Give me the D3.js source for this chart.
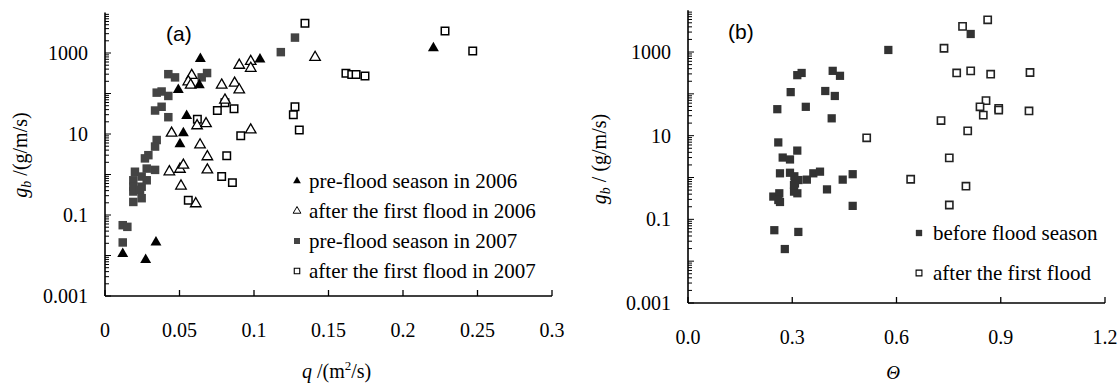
<!DOCTYPE html>
<html>
<head>
<meta charset="utf-8">
<script src="https://cdn.jsdelivr.net/npm/d3@7"></script>
<style>
  body { margin: 0; background: #fff; }
  svg { display: block; }
  text { font-family: "Liberation Serif", "Times New Roman", serif; fill: #000; }
</style>
</head>
<body>
<svg id="chart" width="1118" height="385"></svg>
<script>
// panel (a): [q (m2/s), gb (g/m/s)]
const pre2006 = [[0.064, 720], [0.104, 700], [0.2204, 1320], [0.0492, 123], [0.0633, 162],
  [0.0548, 28], [0.0526, 10.5], [0.0503, 5.6], [0.0119, 0.011], [0.0273, 0.0078], [0.0342, 0.021]];
const after2006 = [[0.0901, 500], [0.0978, 620], [0.0978, 420], [0.141, 780], [0.0582, 280],
  [0.0559, 195], [0.0575, 162], [0.0783, 162], [0.087, 180], [0.0901, 123], [0.0805, 69],
  [0.0618, 16], [0.0678, 18], [0.0447, 10.5], [0.0978, 12.6], [0.0638, 5.4], [0.0687, 2.75],
  [0.0687, 1.3], [0.0432, 1.17], [0.0503, 1.35], [0.0526, 1.7], [0.051, 0.52], [0.0609, 0.19]];
const pre2007 = [[0.118, 1050], [0.1275, 2400], [0.0425, 300], [0.047, 250], [0.0649, 250],
  [0.0685, 320], [0.0347, 105], [0.038, 112], [0.0425, 87], [0.0336, 38], [0.038, 47],
  [0.0425, 26], [0.0347, 7.1], [0.0336, 4.9], [0.0291, 3.0], [0.0268, 2.5], [0.028, 1.4],
  [0.0336, 1.3], [0.0201, 1.17], [0.0246, 0.89], [0.019, 0.72], [0.028, 0.72], [0.019, 0.5],
  [0.0246, 0.5], [0.019, 0.38], [0.0235, 0.42], [0.0246, 0.26], [0.019, 0.21], [0.0119, 0.056],
  [0.015, 0.051], [0.0119, 0.021]];
const after2007 = [[0.1342, 5400], [0.2282, 3500], [0.2468, 1120], [0.1617, 316], [0.1656, 295],
  [0.1685, 295], [0.1745, 270], [0.1275, 47], [0.1264, 30], [0.1304, 12.6], [0.0754, 38],
  [0.0805, 59], [0.0866, 42], [0.062, 23], [0.0911, 9.1], [0.0817, 2.9], [0.0783, 0.89],
  [0.0855, 0.63], [0.0559, 0.23]];

// panel (b): [theta, gb (g/m/s)]
const beforeFlood = [[0.257, 43], [0.3145, 280], [0.327, 316], [0.2955, 110], [0.339, 49],
  [0.4164, 355], [0.4374, 270], [0.395, 117], [0.4225, 89], [0.4135, 26], [0.5765, 1120],
  [0.8135, 2700], [0.2598, 6.9], [0.2725, 3.0], [0.2935, 2.7], [0.3145, 4.4], [0.2647, 1.26],
  [0.2935, 1.3], [0.306, 1.07], [0.318, 0.87], [0.342, 0.89], [0.3606, 1.26], [0.3799, 1.38],
  [0.4452, 0.89], [0.4739, 1.2], [0.3079, 0.72], [0.2455, 0.35], [0.2627, 0.42], [0.3051, 0.46],
  [0.3147, 0.42], [0.400, 0.52], [0.2599, 0.29], [0.2647, 0.26], [0.305, 0.66], [0.4739, 0.21],
  [0.2484, 0.055], [0.3175, 0.05], [0.2786, 0.0195]];
const afterFlood = [[0.8624, 5900], [0.7901, 4100], [0.7367, 1230], [0.7732, 316], [0.8135, 355],
  [0.871, 295], [0.9842, 324], [0.8576, 69], [0.8403, 49], [0.8498, 31], [0.8941, 45],
  [0.8941, 41], [0.9813, 39], [0.7281, 23], [0.8049, 13], [0.5142, 8.9], [0.7519, 2.95],
  [0.6408, 0.91], [0.7999, 0.62], [0.752, 0.22]];

const yTickLabels = [0.001, 0.1, 10, 1000];
const xTicksA = [0, 0.05, 0.1, 0.15, 0.2, 0.25, 0.3];
const xTicksB = [0, 0.3, 0.6, 0.9, 1.2];
const legendA = ["pre-flood season in 2006", "after the first flood in 2006",
  "pre-flood season in 2007", "after the first flood in 2007"];
const legendB = ["before flood season", "after the first flood"];

const svg = d3.select("#chart");

const minorTicks = d3.range(-3, 4).flatMap(k => d3.range(1, 10).map(m => m * Math.pow(10, k)));

function drawAxes(g, x, y, xTicks, xFmt) {
  const [x0, x1] = x.range();
  const [y0, y1] = y.range();
  // y minor ticks
  g.selectAll(".ymin").data(minorTicks).join("line")
    .attr("x1", x0).attr("x2", d => x0 + (Math.abs(Math.log10(d) % 1) < 1e-9 ? 6 : 4))
    .attr("y1", d => y(d)).attr("y2", d => y(d))
    .attr("stroke", "#000").attr("stroke-width", 1);
  g.append("line").attr("x1", x0).attr("x2", x0).attr("y1", y0).attr("y2", y1)
    .attr("stroke", "#000").attr("stroke-width", 1.6);
  g.append("line").attr("x1", x0).attr("x2", x1).attr("y1", y0).attr("y2", y0)
    .attr("stroke", "#000").attr("stroke-width", 1.6);
  g.selectAll(".xt").data(xTicks).join("line")
    .attr("x1", d => x(d)).attr("x2", d => x(d)).attr("y1", y0).attr("y2", y0 - 6)
    .attr("stroke", "#000").attr("stroke-width", 1.3);
  g.selectAll(".xl").data(xTicks).join("text")
    .attr("x", d => x(d)).attr("y", y0 + 41).attr("text-anchor", "middle")
    .attr("font-size", 20).text(xFmt);
  g.selectAll(".yl").data(yTickLabels).join("text")
    .attr("x", x0 - 17).attr("y", d => y(d) + 7).attr("text-anchor", "end")
    .attr("font-size", 20).text(d => String(d));
}

function triangle(size) { return d3.symbol(d3.symbolTriangle, size)(); }
function square(size) { return d3.symbol(d3.symbolSquare, size)(); }

// ---------- panel (a)
const xa = d3.scaleLinear().domain([0, 0.3]).range([105, 552]);
const ya = d3.scaleLog().domain([0.001, 10000]).range([296, 12.5]);
const ga = svg.append("g");
drawAxes(ga, xa, ya, xTicksA, d => String(d));

const seriesA = [
  { data: after2007, path: square(56), fill: "#fff", stroke: "#000", sw: 1.5 },
  { data: pre2007, path: square(72), fill: "#444", stroke: "none", sw: 0 },
  { data: after2006, path: triangle(48), fill: "#fff", stroke: "#000", sw: 1.3 },
  { data: pre2006, path: triangle(52), fill: "#000", stroke: "none", sw: 0 }
];
seriesA.forEach(s => {
  ga.append("g").selectAll("path").data(s.data).join("path")
    .attr("d", s.path)
    .attr("transform", d => `translate(${xa(d[0])},${ya(d[1])})`)
    .attr("fill", s.fill).attr("stroke", s.stroke).attr("stroke-width", s.sw);
});

const legA = [
  { path: triangle(26), fill: "#000", stroke: "none", sw: 0 },
  { path: triangle(26), fill: "#fff", stroke: "#000", sw: 1 },
  { path: square(36), fill: "#444", stroke: "none", sw: 0 },
  { path: square(30), fill: "#fff", stroke: "#000", sw: 1.1 }
];
legendA.forEach((t, i) => {
  const yy = 181 + i * 30;
  ga.append("path").attr("d", legA[i].path).attr("transform", `translate(297,${yy})`)
    .attr("fill", legA[i].fill).attr("stroke", legA[i].stroke).attr("stroke-width", legA[i].sw);
  ga.append("text").attr("x", 309).attr("y", yy + 7).attr("font-size", 21).text(t);
});

ga.append("text").attr("x", 166).attr("y", 41).attr("font-size", 21)
  .style("font-family", "'Liberation Sans', Arial, sans-serif").text("(a)");

const ta = ga.append("text").attr("transform", "translate(27,155) rotate(-90)")
  .attr("text-anchor", "middle").attr("font-size", 20);
ta.append("tspan").attr("font-style", "italic").text("g");
ta.append("tspan").attr("font-style", "italic").attr("font-size", 14).attr("dy", 4).text("b");
ta.append("tspan").attr("dy", -4).text(" /(g/m/s)");

const xta = ga.append("text").attr("x", 302).attr("y", 378).attr("font-size", 20);
xta.append("tspan").attr("font-style", "italic").text("q");
xta.append("tspan").text(" /(m");
xta.append("tspan").attr("font-size", 13).attr("dy", -8).text("2");
xta.append("tspan").attr("dy", 8).text("/s)");

// ---------- panel (b)
const xb = d3.scaleLinear().domain([0, 1.2]).range([688, 1105]);
const yb = d3.scaleLog().domain([0.001, 10000]).range([303, 10.2]);
const gb = svg.append("g");
drawAxes(gb, xb, yb, xTicksB, d => d.toFixed(1));

const seriesB = [
  { data: afterFlood, path: square(52), fill: "#fff", stroke: "#222", sw: 1.6 },
  { data: beforeFlood, path: square(68), fill: "#333", stroke: "none", sw: 0 }
];
seriesB.forEach(s => {
  gb.append("g").selectAll("path").data(s.data).join("path")
    .attr("d", s.path)
    .attr("transform", d => `translate(${xb(d[0])},${yb(d[1])})`)
    .attr("fill", s.fill).attr("stroke", s.stroke).attr("stroke-width", s.sw);
});

const legB = [
  { path: square(40), fill: "#333", stroke: "none", sw: 0 },
  { path: square(34), fill: "#fff", stroke: "#000", sw: 1.1 }
];
legendB.forEach((t, i) => {
  const yy = 233 + i * 40;
  gb.append("path").attr("d", legB[i].path).attr("transform", `translate(919,${yy})`)
    .attr("fill", legB[i].fill).attr("stroke", legB[i].stroke).attr("stroke-width", legB[i].sw);
  gb.append("text").attr("x", 933).attr("y", yy + 7).attr("font-size", 21).text(t);
});

gb.append("text").attr("x", 728).attr("y", 39).attr("font-size", 21)
  .style("font-family", "'Liberation Sans', Arial, sans-serif").text("(b)");

const tb = gb.append("text").attr("transform", "translate(606,159) rotate(-90)")
  .attr("text-anchor", "middle").attr("font-size", 20);
tb.append("tspan").attr("font-style", "italic").text("g");
tb.append("tspan").attr("font-style", "italic").attr("font-size", 14).attr("dy", 4).text("b");
tb.append("tspan").attr("dy", -4).text("  / (g/m/s)");

gb.append("text").attr("x", 893).attr("y", 379).attr("text-anchor", "middle")
  .attr("font-size", 19).attr("font-style", "italic").text("Θ");
</script>
</body>
</html>
